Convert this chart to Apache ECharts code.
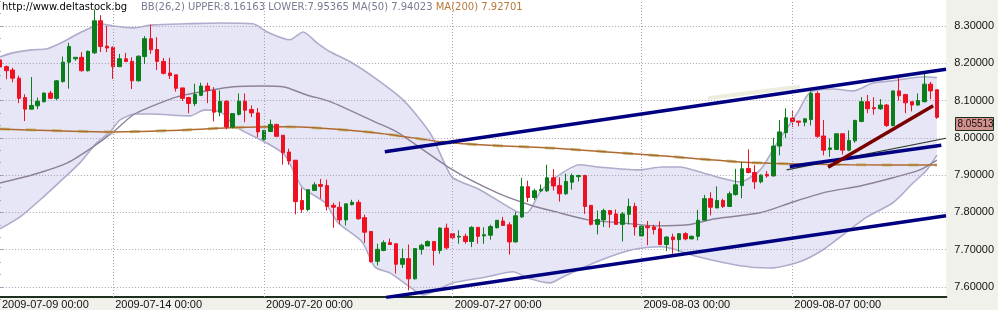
<!DOCTYPE html>
<html><head><meta charset="utf-8">
<script src="https://cdn.jsdelivr.net/npm/echarts@6/dist/echarts.min.js"></script>
<style>
html,body{margin:0;padding:0;background:#f1f1ec;overflow:hidden;}
#wrap{position:relative;width:998px;height:310px;}
#plotbg{position:absolute;left:0;top:0;width:946px;height:297px;background:#ffffff;}
#chart{position:absolute;left:0;top:0;width:998px;height:310px;}
</style></head><body>
<div id="wrap"><div id="plotbg"></div><div id="chart"></div></div>
<script>
// ---------- data ----------
const days = ['2009-07-09','2009-07-10','2009-07-13','2009-07-14','2009-07-15','2009-07-16','2009-07-17',
  '2009-07-20','2009-07-21','2009-07-22','2009-07-23','2009-07-24','2009-07-27','2009-07-28','2009-07-29',
  '2009-07-30','2009-07-31','2009-08-03','2009-08-04','2009-08-05','2009-08-06','2009-08-07','2009-08-10',
  '2009-08-11','2009-08-12'];
const hours = ['00:00','04:00','08:00','12:00','16:00','20:00'];
const xTickIdx = [0, 18, 42, 72, 102, 126];

const opens = [8.209,8.191,8.182,8.160,8.108,8.077,8.086,8.097,8.120,8.106,8.151,8.203,8.212,8.216,8.180,8.228,8.314,8.246,8.243,8.191,
8.212,8.205,8.153,8.218,8.266,8.237,8.205,8.174,8.169,8.134,8.108,8.092,8.114,8.139,8.127,8.069,8.098,8.029,8.063,8.098,
8.076,8.067,7.996,8.017,8.036,8.007,7.962,7.940,7.832,7.808,7.859,7.875,7.872,7.819,7.814,7.780,7.821,7.827,7.786,7.749,
7.669,7.698,7.719,7.716,7.661,7.676,7.622,7.701,7.710,7.722,7.698,7.758,7.743,7.734,7.736,7.722,7.760,7.737,7.739,7.759,
7.777,7.767,7.721,7.788,7.869,7.840,7.858,7.858,7.893,7.872,7.850,7.881,7.896,7.899,7.819,7.768,7.780,7.805,7.796,7.768,
7.795,7.816,7.737,7.763,7.761,7.756,7.714,7.734,7.727,7.743,7.729,7.736,7.779,7.837,7.812,7.832,7.816,7.848,7.872,7.918,
7.907,7.882,7.902,7.898,7.978,8.014,8.053,8.045,8.042,8.049,8.119,8.005,7.969,7.969,8.011,7.967,7.992,8.044,8.097,8.081,
8.078,8.088,8.033,8.126,8.116,8.097,8.088,8.097,8.144,8.129];
const closes = [8.190,8.180,8.160,8.106,8.077,8.087,8.098,8.120,8.106,8.153,8.203,8.245,8.216,8.180,8.232,8.314,8.245,8.241,8.191,8.212,
8.205,8.153,8.219,8.266,8.236,8.205,8.173,8.167,8.133,8.106,8.092,8.116,8.139,8.127,8.069,8.098,8.029,8.065,8.098,8.074,
8.067,8.016,8.020,8.036,8.004,7.960,7.938,7.829,7.808,7.861,7.874,7.870,7.816,7.814,7.780,7.823,7.827,7.783,7.747,7.668,
7.701,7.719,7.714,7.661,7.676,7.622,7.703,7.712,7.722,7.698,7.758,7.705,7.732,7.736,7.722,7.760,7.736,7.740,7.762,7.779,
7.765,7.721,7.791,7.869,7.840,7.858,7.862,7.893,7.871,7.850,7.883,7.899,7.899,7.816,7.768,7.781,7.805,7.795,7.768,7.796,
7.816,7.761,7.763,7.759,7.754,7.714,7.734,7.727,7.743,7.729,7.736,7.779,7.837,7.814,7.832,7.816,7.850,7.874,7.917,7.907,
7.882,7.900,7.898,7.978,8.016,8.054,8.044,8.042,8.051,8.119,8.004,7.967,7.973,8.011,7.967,7.993,8.047,8.097,8.078,8.078,
8.088,8.033,8.126,8.113,8.094,8.088,8.100,8.144,8.126,8.05513];
const lows = [8.165,8.157,8.149,8.093,8.045,8.077,8.077,8.095,8.104,8.101,8.148,8.132,8.207,8.178,8.178,8.225,8.230,8.230,8.158,8.191,
8.203,8.131,8.151,8.198,8.225,8.182,8.170,8.158,8.124,8.099,8.066,8.085,8.112,8.093,8.044,8.058,8.023,8.025,8.060,8.042,
8.056,8.002,7.993,8.017,8.004,7.928,7.928,7.795,7.799,7.803,7.859,7.837,7.805,7.759,7.768,7.765,7.819,7.780,7.718,7.665,
7.658,7.696,7.714,7.636,7.651,7.591,7.620,7.687,7.710,7.658,7.689,7.701,7.730,7.716,7.716,7.707,7.716,7.716,7.727,7.757,
7.764,7.687,7.719,7.785,7.828,7.833,7.855,7.855,7.859,7.829,7.847,7.861,7.883,7.796,7.765,7.741,7.761,7.759,7.768,7.722,
7.768,7.738,7.734,7.712,7.741,7.712,7.696,7.689,7.694,7.725,7.728,7.725,7.777,7.792,7.812,7.812,7.816,7.845,7.838,7.905,
7.863,7.878,7.893,7.896,7.953,8.000,8.029,8.031,8.031,8.033,8.000,7.953,7.949,7.967,7.955,7.964,7.987,8.042,8.066,8.062,
8.075,8.029,8.031,8.100,8.066,8.071,8.086,8.095,8.104,8.051];
const highs = [8.217,8.194,8.188,8.167,8.117,8.163,8.108,8.122,8.126,8.155,8.218,8.255,8.216,8.230,8.234,8.344,8.329,8.300,8.245,8.225,
8.228,8.216,8.221,8.273,8.304,8.270,8.214,8.215,8.169,8.134,8.110,8.145,8.148,8.148,8.136,8.127,8.101,8.065,8.119,8.119,
8.087,8.080,8.020,8.049,8.038,8.008,7.971,7.940,7.866,7.861,7.881,7.890,7.888,7.826,7.829,7.823,7.834,7.834,7.794,7.749,
7.716,7.725,7.730,7.716,7.703,7.714,7.703,7.716,7.725,7.722,7.760,7.770,7.745,7.752,7.743,7.763,7.760,7.760,7.767,7.779,
7.788,7.774,7.801,7.893,7.885,7.864,7.875,7.928,7.916,7.894,7.904,7.904,7.901,7.901,7.819,7.805,7.810,7.805,7.808,7.801,
7.837,7.826,7.765,7.777,7.767,7.776,7.736,7.743,7.743,7.747,7.738,7.807,7.847,7.854,7.870,7.837,7.856,7.917,7.935,7.969,
7.927,7.902,7.911,8.000,8.048,8.079,8.072,8.045,8.053,8.125,8.125,8.048,7.998,8.011,8.011,8.020,8.048,8.109,8.115,8.109,
8.104,8.091,8.126,8.164,8.118,8.097,8.119,8.175,8.150,8.129];

// indicator curves: [candle index, price]
const bbUpper = [[0,8.217],[2,8.228],[5,8.236],[7.5,8.239],[10,8.257],[12.7,8.282],[14.8,8.298],[15.9,8.306],[18,8.300],[21.2,8.295],
[24.3,8.303],[29.7,8.306],[35,8.308],[40.2,8.306],[42.5,8.284],[46.1,8.263],[48.2,8.284],[50.4,8.255],[52.5,8.231],[55.7,8.204],
[59.6,8.161],[64.1,8.102],[68.4,8.013],[70.8,7.928],[72,7.893],[76.3,7.861],[82.2,7.802],[83.8,7.799],[85.9,7.855],[88.3,7.893],
[92.2,7.928],[95.1,7.922],[101.5,7.914],[105.3,7.922],[108.1,7.922],[111.8,7.906],[117.7,7.882],[120.9,7.914],[123.6,7.987],
[126.8,8.067],[128.8,8.121],[132.5,8.131],[135.7,8.126],[138.8,8.147],[142,8.153],[146.8,8.164],[149,8.16163]];
const bbLower = [[0,7.756],[3.2,7.788],[6.4,7.834],[9.5,7.882],[12.7,7.933],[15.4,7.987],[17.5,8.016],[19.1,8.048],[21.5,8.064],
[23.9,8.064],[30.2,8.059],[32.6,8.075],[35.3,8.067],[37.4,8.030],[42.1,7.989],[45.3,7.954],[48,7.869],[51.7,7.826],[53.8,7.772],
[57.6,7.721],[59.6,7.654],[62,7.638],[65.2,7.600],[67.3,7.579],[72,7.611],[77.4,7.627],[81.6,7.641],[83.8,7.625],[87.5,7.611],
[89.5,7.627],[94.9,7.668],[100.5,7.700],[105.3,7.708],[111,7.681],[117.7,7.657],[122.5,7.651],[127.2,7.668],[130.9,7.700],
[134.7,7.748],[137.9,7.788],[142,7.826],[145.2,7.879],[147.4,7.914],[149,7.95365]];
const ma50 = [[0,7.879],[5.2,7.901],[10.7,7.933],[14.8,7.976],[18,8.016],[21.2,8.062],[23.9,8.083],[28.1,8.110],[31.8,8.123],
[37.1,8.137],[41.8,8.139],[45,8.137],[48.8,8.115],[52.5,8.097],[59.6,8.043],[63.1,8.016],[72,7.914],[79,7.853],[84.3,7.820],
[88.3,7.802],[93.5,7.780],[98.9,7.772],[104.2,7.764],[109.4,7.767],[113.7,7.783],[120.9,7.799],[126.1,7.828],[131.5,7.855],
[136.8,7.871],[142,7.893],[146.3,7.914],[149,7.94023]];
const ma200 = [[0,8.024],[18,8.016],[29.4,8.021],[37.4,8.028],[45.3,8.030],[59.6,8.014],[72,7.986],[88.3,7.972],[105,7.952],
[119,7.934],[135,7.928],[149,7.92701]];

// hand-drawn trend lines: [candle index, price]
const upperChannel = [[61.2,7.963],[150.45,8.184]];
const lowerChannel = [[61.4,7.572],[150.45,7.791]];
const shortChannel = [[125.6,7.923],[149.7,7.980]];
const thinLine = [[125.1,7.914],[150.45,7.999]];
const redLine = [[131.7,7.921],[148.4,8.086]];
const ghostLine = [[112.6,8.106],[127.2,8.138]];

const headerUrl = 'http://www.deltastock.bg';
const headerBB = 'BB(26,2) UPPER:8.16163 LOWER:7.95365 MA(50) 7.94023';
const headerMA = 'MA(200) 7.92701';

// ---------- build ----------
const categories = [];
days.forEach(d => hours.forEach(h => categories.push(d + ' ' + h)));
categories.push('');
const ohlc = opens.map((o, i) => [o, closes[i], lows[i], highs[i]]);

const FONT = '"Liberation Sans", Arial, sans-serif';
const GRID_COLOR = '#a99fb6';
const chart = echarts.init(document.getElementById('chart'), null, {renderer: 'canvas'});

function lineSeries(data, color, width, z, extra) {
  return Object.assign({
    type: 'line', xAxisIndex: 1, yAxisIndex: 0, data: data, symbol: 'none', silent: true,
    lineStyle: {color: color, width: width}, z: z, animation: false
  }, extra || {});
}

const option = {
  animation: false,
  grid: [
    {left: -3.144, top: 0, width: 949.49, height: 297, outerBoundsMode: 'none', containLabel: false},
    {left: -3.144, top: -11.29, width: 949.49, height: 335.57, outerBoundsMode: 'none', containLabel: false}
  ],
  xAxis: [
    {type: 'category', gridIndex: 0, data: categories, boundaryGap: true, z: 2,
     axisLine: {show: true, lineStyle: {color: '#1d301d', width: 2}},
     axisTick: {show: false},
     axisLabel: {interval: (idx) => xTickIdx.includes(idx), align: 'left', margin: 2,
       padding: [0,0,0,2], color: '#111', fontFamily: FONT, fontSize: 11},
     splitLine: {show: false}},
    {type: 'value', gridIndex: 0, min: -0.5, max: 150.5, show: false},
    {type: 'value', gridIndex: 1, min: 0, max: 1, show: false}
  ],
  yAxis: [
    {type: 'value', gridIndex: 0, min: 7.57319, max: 8.36973, show: false, scale: true},
    {type: 'value', gridIndex: 1, position: 'right', min: 7.5, max: 8.4, interval: 0.1, z: 2,
     axisLine: {show: true, lineStyle: {color: '#1d301d', width: 2}},
     axisTick: {show: true, length: 6, lineStyle: {color: '#9c9cab'}},
     minorTick: {show: true, splitNumber: 3, length: 4, lineStyle: {color: '#9c9cab'}},
     axisLabel: {margin: 8, color: '#111', fontFamily: FONT, fontSize: 11,
       formatter: v => v.toFixed(5)},
     splitLine: {show: true, lineStyle: {type: [1, 2], color: GRID_COLOR, width: 1}}}
  ],
  series: [
    {type: 'custom', xAxisIndex: 1, yAxisIndex: 0, data: [[0]], z: 1, silent: true,
     renderItem: function (params, api) {
       const pts = bbUpper.map(p => api.coord(p)).concat(bbLower.slice().reverse().map(p => api.coord(p)));
       return {type: 'polygon', shape: {points: pts}, style: {fill: '#e6e6f6', stroke: 'none'}};
     }},
    lineSeries(bbUpper, '#aeaccb', 1.6, 3, {smooth: 0.25,
      markLine: {silent: true, symbol: ['none','none'], label: {show: false},
        lineStyle: {type: [1, 2], color: GRID_COLOR, width: 1},
        data: xTickIdx.filter(i => i > 0).map(i => ({xAxis: i}))}}),
    lineSeries(bbLower, '#aeaccb', 1.6, 3, {smooth: 0.25}),
    lineSeries(ma50, '#8d8299', 1.4, 3, {smooth: 0.25}),
    lineSeries(ma200, '#c9c48c', 3, 3, {smooth: 0.25, lineStyle: {color: '#c9c48c', width: 3, type: [10, 16]}}),
    lineSeries(ma200, '#b06a30', 1.5, 3, {smooth: 0.25}),
    {type: 'candlestick', xAxisIndex: 0, yAxisIndex: 0, data: ohlc, barWidth: 4, z: 4, silent: true,
     itemStyle: {color: '#0b7d1b', color0: '#ee1122', borderColor: '#0b7d1b', borderColor0: '#ee1122', borderWidth: 1}},
    lineSeries(ghostLine, '#ececdf', 4, 6),
    lineSeries(upperChannel, '#000080', 3.5, 7),
    lineSeries(lowerChannel, '#000080', 3.5, 7),
    lineSeries(thinLine, '#2c3a2c', 1.2, 7),
    lineSeries(shortChannel, '#000080', 3.5, 7),
    lineSeries(redLine, '#7a0000', 3.5, 8)
  ]
};
chart.setOption(option);

const lastClose = closes[closes.length - 1];
const py = chart.convertToPixel({yAxisIndex: 0}, lastClose);
chart.setOption({
  graphic: [
    {type: 'text', x: 2, y: 2, z: 20, silent: true,
     style: {text: headerUrl, font: '10px "DejaVu Sans"', fill: '#000000'}},
    {type: 'text', x: 141, y: 2, z: 20, silent: true,
     style: {text: '{g|' + headerBB + '} {b|' + headerMA + '}', font: '10px "DejaVu Sans"',
       rich: {g: {fill: '#777c92', font: '10px "DejaVu Sans"'}, b: {fill: '#b8793a', font: '10px "DejaVu Sans"'}}}},
    {type: 'rect', z: 20, silent: true, shape: {x: 955.5, y: Math.round(py) + 0.5, width: 38, height: 13},
     style: {fill: '#d4918e', stroke: '#1d301d', lineWidth: 1}},
    {type: 'text', z: 21, silent: true, x: 957.5, y: Math.round(py) + 2,
     style: {text: lastClose.toFixed(5), font: '10px ' + FONT, fill: '#111'}}
  ]
});
</script>
</body></html>
